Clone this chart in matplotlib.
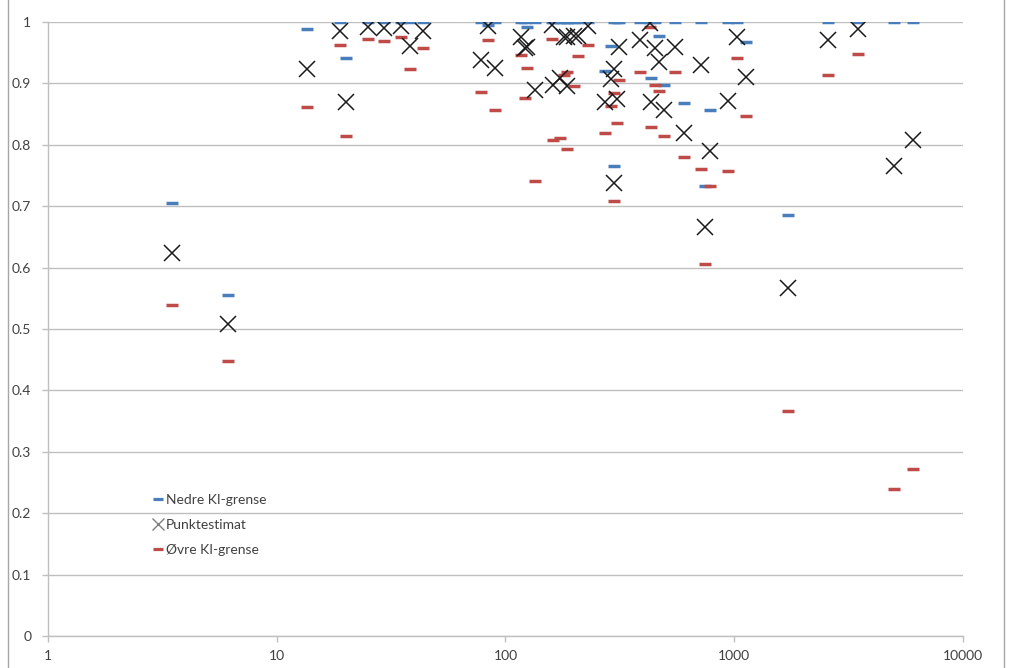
import matplotlib
matplotlib.use("Agg")
import matplotlib.pyplot as plt
from matplotlib.lines import Line2D
from matplotlib.patches import Rectangle

plt.rcParams['font.family'] = ['Lato', 'DejaVu Sans']

# x positions (log scale) of each estimate
x_vals = [3.48, 6.12, 13.5, 18.9, 20.0, 25.1, 29.4, 34.9, 38.2, 43.7,
          78.2, 84.1, 90.0, 116.5, 121.1, 124.2, 134.6, 159.2, 161.8, 173.1,
          179.3, 185.2, 185.7, 198.3, 208.1, 230.1, 272.3, 288.4, 298.1, 299.0,
          306.3, 314.5, 387.3, 428.0, 432.0, 450.4, 468.9, 493.1, 550.8, 600.1,
          713.5, 745.1, 783.6, 941.9, 1025, 1126, 1723, 2578, 3485, 5007, 6064]
# point estimates
punkt = [0.624, 0.508, 0.924, 0.986, 0.869, 0.992, 0.990, 0.993, 0.961, 0.985,
         0.938, 0.993, 0.925, 0.976, 0.957, 0.960, 0.889, 0.995, 0.897, 0.909,
         0.975, 0.896, 0.976, 0.977, 0.978, 0.993, 0.870, 0.907, 0.923, 0.738,
         0.875, 0.960, 0.970, 0.999, 0.870, 0.958, 0.935, 0.856, 0.960, 0.819,
         0.930, 0.666, 0.790, 0.872, 0.976, 0.910, 0.566, 0.970, 0.989, 0.766, 0.808]
# "Nedre KI-grense" (blue)
nedre = [0.705, 0.555, 0.988, 1.0, 0.942, 1.0, 1.0, 1.0, 1.0, 1.0,
         1.0, 0.995, 1.0, 1.0, 1.0, 0.992, 1.0, 1.0, 1.0, 1.0,
         1.0, 1.0, 1.0, 1.0, 1.0, 1.0, 0.920, 0.961, 1.0, 0.766,
         1.0, 1.0, 1.0, 1.0, 0.909, 1.0, 0.978, 0.897, 1.0, 0.868,
         1.0, 0.733, 0.857, 1.0, 1.0, 0.968, 0.685, 1.0, 1.0, 1.0, 1.0]
# "Øvre KI-grense" (red)
ovre = [0.539, 0.448, 0.861, 0.962, 0.814, 0.972, 0.969, 0.975, 0.923, 0.958,
        0.886, 0.971, 0.857, 0.947, 0.876, 0.925, 0.741, 0.973, 0.808, 0.811,
        0.913, 0.793, 0.919, 0.896, 0.945, 0.963, 0.820, 0.863, 0.884, 0.709,
        0.835, 0.905, 0.918, 0.992, 0.829, 0.897, 0.887, 0.815, 0.918, 0.780,
        0.760, 0.606, 0.733, 0.758, 0.941, 0.847, 0.366, 0.914, 0.948, 0.239, 0.272]

y_ticks = [0, 0.1, 0.2, 0.3, 0.4, 0.5, 0.6, 0.7, 0.8, 0.9, 1]
y_labels = ["0", "0.1", "0.2", "0.3", "0.4", "0.5", "0.6", "0.7", "0.8", "0.9", "1"]
x_ticks = [1, 10, 100, 1000, 10000]
x_labels = ["1", "10", "100", "1000", "10000"]
series_labels = ["Nedre KI-grense", "Punktestimat", "Øvre KI-grense"]

blue = "#4a7ebb"
red = "#be4b48"
grid_c = "#bfbfbf"
txt_c = "#404040"

fig = plt.figure(figsize=(10.12, 6.68), dpi=100)
ax = fig.add_axes([48/1012, (668-636)/668, (963-48)/1012, (636-22)/668])

ax.plot(x_vals, nedre, linestyle='none', marker='_', color=blue,
        markersize=8, markeredgewidth=2.5, label=series_labels[0], zorder=3)
ax.plot(x_vals, punkt, linestyle='none', marker='x', color='#1a1a1a',
        markersize=12, markeredgewidth=1.1, label=series_labels[1], zorder=4)
ax.plot(x_vals, ovre, linestyle='none', marker='_', color=red,
        markersize=8, markeredgewidth=2.5, label=series_labels[2], zorder=3)

ax.set_xscale('log')
ax.set_xlim(1, 10000)
ax.set_ylim(0, 1)
ax.set_xticks(x_ticks)
ax.set_xticklabels(x_labels)
ax.xaxis.set_minor_locator(matplotlib.ticker.NullLocator())
ax.set_yticks(y_ticks)
ax.set_yticklabels(y_labels)

ax.yaxis.grid(True, color=grid_c, linewidth=1.0)
ax.set_axisbelow(True)
for s in ['top', 'right']:
    ax.spines[s].set_visible(False)
for s in ['left', 'bottom']:
    ax.spines[s].set_color(grid_c)
    ax.spines[s].set_linewidth(1.0)
ax.tick_params(axis='both', colors=grid_c, labelcolor=txt_c, labelsize=10,
               length=4, width=1.0, direction='out')
ax.tick_params(axis='x', pad=6)
ax.tick_params(axis='y', pad=8)

handles = [
    Line2D([], [], linestyle='none', marker='_', color=blue, markersize=7.5, markeredgewidth=2.3),
    Line2D([], [], linestyle='none', marker='x', color='#7f7f7f', markersize=8, markeredgewidth=1.0),
    Line2D([], [], linestyle='none', marker='_', color=red, markersize=7.5, markeredgewidth=2.3),
]
leg = ax.legend(handles, series_labels, loc='upper left',
                bbox_to_anchor=(143/1012, (668-484)/668), bbox_transform=fig.transFigure,
                frameon=False, fontsize=10, handlelength=0.7, handletextpad=0.25,
                labelspacing=0.95, borderpad=0.2)
for t in leg.get_texts():
    t.set_color(txt_c)

# chart-area border
fig.patches.append(Rectangle((8/1012, -0.05), (1004-8)/1012, 1.2, transform=fig.transFigure,
                             fill=False, edgecolor='#a6a6a6', linewidth=1.0))

fig.savefig("out.png", dpi=100)
